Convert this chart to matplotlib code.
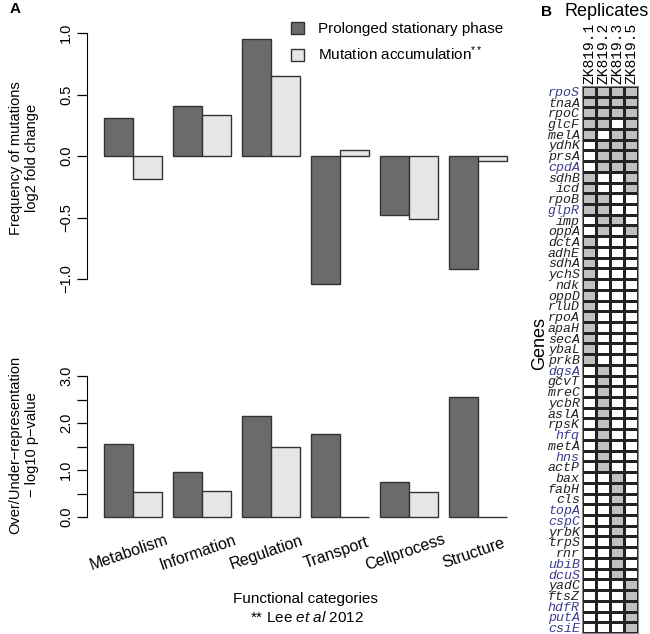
import numpy as np
import matplotlib
matplotlib.use("Agg")
import matplotlib.pyplot as plt
from matplotlib.colors import ListedColormap
from matplotlib.patches import Patch

plt.rcParams["font.family"] = ["Liberation Sans", "DejaVu Sans"]
plt.rcParams["mathtext.fontset"] = "custom"
plt.rcParams["mathtext.rm"] = "Liberation Sans"
plt.rcParams["mathtext.it"] = "Liberation Sans:italic"

# ---- panel A data -------------------------------------------------------
categories = ["Metabolism", "Information", "Regulation",
              "Transport", "Cellprocess", "Structure"]
fold_stationary = [0.31, 0.41, 0.95, -1.04, -0.48, -0.92]
fold_accumulation = [-0.19, 0.33, 0.65, 0.05, -0.51, -0.04]
pval_stationary = [1.55, 0.95, 2.15, 1.77, 0.74, 2.56]
pval_accumulation = [0.54, 0.55, 1.48, 0.0, 0.53, 0.0]

# ---- panel B data -------------------------------------------------------
replicates = ["ZK819.1", "ZK819.2", "ZK819.3", "ZK819.5"]
genes = ["rpoS", "tnaA", "rpoC", "glcF", "melA", "ydhK", "prsA", "cpdA",
         "sdhB", "icd", "rpoB", "glpR", "imp", "oppA", "dctA", "adhE",
         "sdhA", "ychS", "ndk", "oppD", "rluD", "rpoA", "apaH", "secA",
         "ybaL", "prkB", "dgsA", "gcvT", "mreC", "ycbR", "aslA", "rpsK",
         "hfq", "metA", "hns", "actP", "bax", "fabH", "cls", "topA",
         "cspC", "yrbK", "trpS", "rnr", "ubiB", "dcuS", "yadC", "ftsZ",
         "hdfR", "putA", "csiE"]
blue_genes = {"rpoS", "cpdA", "glpR", "dgsA", "hfq", "hns", "topA",
              "cspC", "ubiB", "dcuS", "hdfR", "putA", "csiE"}
# one string per gene, one character per replicate (1 = mutated)
mutated = ["1111", "1111", "1111", "1101", "1011", "0111", "0111", "0111",
           "1001", "1001", "1100", "1100", "0110", "0101",
           "1000", "1000", "1000", "1000", "1000", "1000", "1000", "1000",
           "1000", "1000", "1000", "1000",
           "0100", "0100", "0100", "0100", "0100", "0100", "0100", "0100",
           "0100", "0100",
           "0010", "0010", "0010", "0010", "0010", "0010", "0010", "0010",
           "0010", "0010",
           "0001", "0001", "0001", "0001", "0001"]

DARK = "#6b6b6b"
LIGHT = "#e5e6e5"
EDGE = "#333333"

W, H = 650, 634
fig = plt.figure(figsize=(W / 100, H / 100), dpi=100)


def rect(x0, y0, x1, y1):
    # pixel box (top-down) -> figure fraction
    return [x0 / W, 1 - y1 / H, (x1 - x0) / W, (y1 - y0) / H]


def style_axis(ax):
    for s in ("top", "right", "bottom"):
        ax.spines[s].set_visible(False)
    ax.tick_params(axis="x", length=0, labelbottom=False)
    ax.tick_params(axis="y", length=7, width=0.9, labelsize=10.5,
                   labelrotation=90, pad=3)
    for lab in ax.get_yticklabels():
        lab.set_va("center")


x = np.arange(len(categories))
w = 29 / 69
xlim = ((87 - 133) / 69, (515 - 133) / 69)

# top panel
ax1 = fig.add_axes(rect(87, 20, 515, 290))
ax1.bar(x - w / 2, fold_stationary, w, color=DARK, edgecolor=EDGE, lw=1)
ax1.bar(x + w / 2, fold_accumulation, w, color=LIGHT, edgecolor=EDGE, lw=1)
ax1.set_xlim(*xlim)
ax1.set_ylim((156 - 290) / 123, (156 - 20) / 123)
ax1.set_yticks([-1, -0.5, 0, 0.5, 1])
ax1.set_yticklabels(["\u22121.0", "\u22120.5", "0.0", "0.5", "1.0"])
ax1.spines["left"].set_bounds(-1, 1)
style_axis(ax1)

leg = ax1.legend(
    handles=[Patch(facecolor=DARK, edgecolor=EDGE),
             Patch(facecolor=LIGHT, edgecolor=EDGE)],
    labels=["Prolonged stationary phase", "Mutation accumulation$^{**}$"],
    loc="upper left", bbox_to_anchor=(283 / W, 1 - 14 / H),
    bbox_transform=fig.transFigure, frameon=False, fontsize=11,
    handlelength=0.9, handleheight=0.9, handletextpad=0.9,
    labelspacing=0.55, borderpad=0)

# bottom panel
ax2 = fig.add_axes(rect(87, 370, 515, 525))
ax2.bar(x - w / 2, pval_stationary, w, color=DARK, edgecolor=EDGE, lw=1)
ax2.bar(x + w / 2, pval_accumulation, w, color=LIGHT, edgecolor=EDGE, lw=1)
ax2.set_xlim(*xlim)
ax2.set_ylim((517 - 525) / 47, (517 - 370) / 47)
ax2.set_yticks([0, 0.5, 1, 1.5, 2, 2.5, 3])
ax2.set_yticklabels(["0.0", "", "1.0", "", "2.0", "", "3.0"])
ax2.spines["left"].set_bounds(0, 3)
style_axis(ax2)

for xi, cat in zip(x, categories):
    ax2.text(xi - 0.06, -0.76, cat, rotation=19, ha="center", va="center",
             fontsize=11.5, rotation_mode="anchor")

fig.text(305 / W, 1 - 599 / H, "Functional categories", ha="center",
         va="center", fontsize=11)
fig.text(307 / W, 1 - 617 / H, "** Lee $\\it{et\\ al}$ 2012", ha="center",
         va="center", fontsize=11)

fig.text(24 / W, 1 - 158 / H, "Frequency of mutations\nlog2 fold change",
         rotation=90, ha="center", va="center", fontsize=10.5,
         linespacing=1.25)
fig.text(24 / W, 1 - 445 / H,
         "Over/Under\u2212representation\n\u2212 log10 p\u2212value",
         rotation=90, ha="center", va="center", fontsize=10.5,
         linespacing=1.25)

fig.text(10 / W, 1 - 9 / H, "A", fontsize=11, fontweight="bold",
         ha="left", va="center")

# ---- panel B: mutation grid --------------------------------------------
grid = np.array([[int(c) for c in row] for row in mutated])
ax3 = fig.add_axes(rect(582, 86, 638, 633))
ax3.pcolormesh(grid, cmap=ListedColormap(["white", "#c0c0c0"]),
               edgecolors="#222222", linewidth=0.9)
ax3.set_xlim(0, len(replicates))
ax3.set_ylim(len(genes), 0)
for s in ax3.spines.values():
    s.set_color("#888888")
ax3.set_yticks(np.arange(len(genes)) + 0.5)
ax3.set_yticklabels(genes, family="Liberation Mono", style="italic",
                    fontsize=9.5)
for lab, g in zip(ax3.get_yticklabels(), genes):
    lab.set_color("#3b3b8f" if g in blue_genes else "#222222")
ax3.set_xticks(np.arange(len(replicates)) + 0.5)
ax3.set_xticklabels(replicates, family="Liberation Mono", fontsize=10.5,
                    rotation=90)
ax3.tick_params(axis="both", length=0, pad=1.5, top=True, labeltop=True,
                bottom=False, labelbottom=False)

fig.text(607 / W, 1 - 12 / H, "Replicates", ha="center", va="center",
         fontsize=13)
fig.text(546 / W, 1 - 12 / H, "B", ha="center", va="center", fontsize=11,
         fontweight="bold")
fig.text(540 / W, 1 - 343 / H, "Genes", rotation=90, ha="center",
         va="center", fontsize=13)

fig.savefig("out.png", dpi=100)
